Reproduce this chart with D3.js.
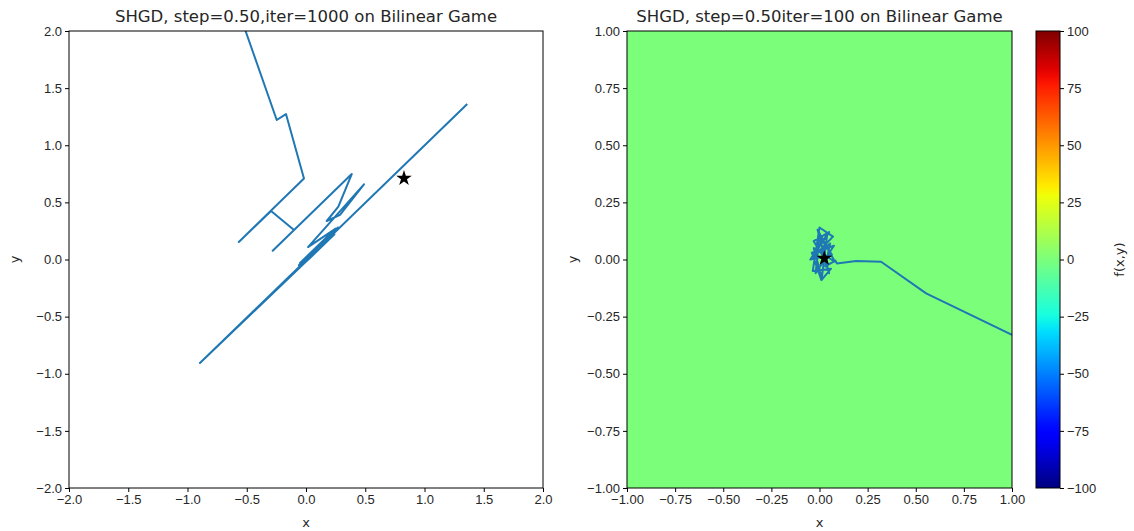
<!DOCTYPE html>
<html>
<head>
<meta charset="utf-8">
<script src="https://cdn.jsdelivr.net/npm/d3@7"></script>
<style>
  html, body { margin: 0; padding: 0; background: #fff; }
  svg { display: block; font-family: "DejaVu Sans", sans-serif; }
  text { fill: #262626; }
</style>
</head>
<body>
<svg id="fig" width="1134" height="531"></svg>
<script>
// Trajectory of SHGD on the bilinear game, step 0.50, 1000 iterations
const leftTitle = "SHGD, step=0.50,iter=1000 on Bilinear Game";
const leftPathX = [-0.51, -0.247, -0.169, -0.017, -0.567, -0.295, -0.101, -0.281, 0.386, 0.273, 0.175, 0.287, 0.489, 0.017, 0.25, -0.05, 0.22, -0.06, 0.27, 0.02, 0.24, -0.895, 1.361];
const leftPathY = [2.0, 1.221, 1.273, 0.709, 0.153, 0.425, 0.258, 0.077, 0.748, 0.462, 0.337, 0.39, 0.658, 0.109, 0.27, -0.03, 0.24, -0.05, 0.28, 0.0, 0.22, -0.906, 1.361];
const leftStar = [0.827, 0.711];
const leftTicks = [-2.0, -1.5, -1.0, -0.5, 0.0, 0.5, 1.0, 1.5, 2.0];

// Trajectory of SHGD, step 0.50, 100 iterations, over the f(x,y) field
const rightTitle = "SHGD, step=0.50iter=100 on Bilinear Game";
const rightPathX = [1.0, 0.554, 0.32, 0.19, 0.09, 0.083, 0.03, 0.055, 0.01, 0.05, -0.01, 0.08, -0.03, 0.012, 0.04, -0.048, 0.065, 0.0, -0.02, 0.075, -0.04, 0.01, 0.06, -0.035, 0.0, 0.07, -0.045, 0.05, -0.03, 0.025];
const rightPathY = [-0.33, -0.148, -0.01, -0.007, -0.017, -0.005, -0.03, 0.07, 0.04, -0.06, 0.13, -0.01, 0.05, -0.08, 0.11, 0.0, 0.02, 0.10, -0.06, 0.06, 0.03, -0.09, -0.04, -0.05, 0.14, 0.1, 0.0, 0.12, 0.08, 0.005];
const rightStar = [0.025, 0.005];
const rightTicks = [-1.0, -0.75, -0.5, -0.25, 0.0, 0.25, 0.5, 0.75, 1.0];
const fieldValue = 0;   // f(x,y) level filling the plotted region

// Colour bar
const cbarDomain = [-100, 100];
const cbarTicks = [-100, -75, -50, -25, 0, 25, 50, 75, 100];
const cbarLabel = "f(x,y)";

// matplotlib "jet" segment data
const jetR = [[0, 0], [0.35, 0], [0.66, 1], [0.89, 1], [1, 0.5]];
const jetG = [[0, 0], [0.125, 0], [0.375, 1], [0.64, 1], [0.91, 0], [1, 0]];
const jetB = [[0, 0.5], [0.11, 1], [0.34, 1], [0.65, 0], [1, 0]];
function seg(points, t) {
  for (let i = 1; i < points.length; i++) {
    if (t <= points[i][0]) {
      const [x0, y0] = points[i - 1], [x1, y1] = points[i];
      return y0 + (y1 - y0) * (t - x0) / (x1 - x0);
    }
  }
  return points[points.length - 1][1];
}
function jet(t) {
  return d3.rgb(255 * seg(jetR, t), 255 * seg(jetG, t), 255 * seg(jetB, t)).formatHex();
}

const svg = d3.select("#fig");
const lineColor = "#1f77b4";
const plotTop = 31, plotBottom = 488;
const tickFont = 13, titleFont = 16.5;

function drawAxes(g, x, y, ticks, fmt, id) {
  const [x0, x1] = x.range();
  g.append("clipPath").attr("id", id).append("rect")
    .attr("x", x0).attr("y", plotTop).attr("width", x1 - x0).attr("height", plotBottom - plotTop);

  const ax = g.append("g").attr("transform", `translate(0,${plotBottom})`)
    .call(d3.axisBottom(x).tickValues(ticks).tickFormat(d3.format(fmt)).tickSize(4).tickPadding(3));
  const ay = g.append("g").attr("transform", `translate(${x0},0)`)
    .call(d3.axisLeft(y).tickValues(ticks).tickFormat(d3.format(fmt)).tickSize(4).tickPadding(3));
  [ax, ay].forEach(a => {
    a.select(".domain").remove();
    a.selectAll("line").attr("stroke", "#000");
    a.selectAll("text").attr("font-size", tickFont).attr("fill", "#262626");
  });
}

function frame(g, x) {
  const [x0, x1] = x.range();
  g.append("rect").attr("x", x0).attr("y", plotTop).attr("width", x1 - x0).attr("height", plotBottom - plotTop)
    .attr("fill", "none").attr("stroke", "#000").attr("stroke-width", 1);
}

function labels(g, x, title) {
  const [x0, x1] = x.range();
  g.append("text").attr("x", (x0 + x1) / 2).attr("y", 22).attr("text-anchor", "middle")
    .attr("font-size", titleFont).text(title);
  g.append("text").attr("x", (x0 + x1) / 2).attr("y", 527).attr("text-anchor", "middle")
    .attr("font-size", tickFont).text("x");
  g.append("text").attr("transform", `translate(${x0 - 50},${(plotTop + plotBottom) / 2}) rotate(-90)`)
    .attr("text-anchor", "middle").attr("font-size", tickFont).text("y");
}

// ---- left panel ----
const xL = d3.scaleLinear([-2, 2], [69, 543]);
const yL = d3.scaleLinear([-2, 2], [plotBottom, plotTop]);
const gL = svg.append("g");
drawAxes(gL, xL, yL, leftTicks, ".1f", "clipL");
const lineL = d3.line().x(i => xL(leftPathX[i])).y(i => yL(leftPathY[i]));
gL.append("path").attr("clip-path", "url(#clipL)")
  .attr("d", lineL(d3.range(leftPathX.length)))
  .attr("fill", "none").attr("stroke", lineColor).attr("stroke-width", 2).attr("stroke-linejoin", "round");
gL.append("path").attr("d", d3.symbol(d3.symbolStar, 75)())
  .attr("transform", `translate(${xL(leftStar[0])},${yL(leftStar[1])})`).attr("fill", "#000");
frame(gL, xL);
labels(gL, xL, leftTitle);

// ---- right panel ----
const xR = d3.scaleLinear([-1, 1], [627, 1012]);
const yR = d3.scaleLinear([-1, 1], [plotBottom, plotTop]);
const cbar = d3.scaleLinear(cbarDomain, [plotBottom, plotTop]);
const gR = svg.append("g");
gR.append("rect").attr("x", 627).attr("y", plotTop).attr("width", 1012 - 627).attr("height", plotBottom - plotTop)
  .attr("fill", jet((fieldValue - cbarDomain[0]) / (cbarDomain[1] - cbarDomain[0])));
drawAxes(gR, xR, yR, rightTicks, ".2f", "clipR");
const lineR = d3.line().x(i => xR(rightPathX[i])).y(i => yR(rightPathY[i]));
gR.append("path").attr("clip-path", "url(#clipR)")
  .attr("d", lineR(d3.range(rightPathX.length)))
  .attr("fill", "none").attr("stroke", lineColor).attr("stroke-width", 2).attr("stroke-linejoin", "round");
gR.append("path").attr("d", d3.symbol(d3.symbolStar, 75)())
  .attr("transform", `translate(${xR(rightStar[0])},${yR(rightStar[1])})`).attr("fill", "#000");
frame(gR, xR);
labels(gR, xR, rightTitle);

// ---- colour bar ----
const cbX = 1036, cbW = 24;
const defs = svg.append("defs");
const grad = defs.append("linearGradient").attr("id", "jetGrad")
  .attr("x1", 0).attr("y1", 1).attr("x2", 0).attr("y2", 0);
d3.range(0, 1.0001, 0.02).forEach(t => grad.append("stop").attr("offset", t).attr("stop-color", jet(t)));
svg.append("rect").attr("x", cbX).attr("y", plotTop).attr("width", cbW).attr("height", plotBottom - plotTop)
  .attr("fill", "url(#jetGrad)").attr("stroke", "#000").attr("stroke-width", 1);
const cbAxis = svg.append("g").attr("transform", `translate(${cbX + cbW},0)`)
  .call(d3.axisRight(cbar).tickValues(cbarTicks).tickFormat(d3.format("d")).tickSize(4).tickPadding(3));
cbAxis.select(".domain").remove();
cbAxis.selectAll("line").attr("stroke", "#000");
cbAxis.selectAll("text").attr("font-size", tickFont).attr("fill", "#262626");
svg.append("text").attr("transform", `translate(1124,${(plotTop + plotBottom) / 2}) rotate(-90)`)
  .attr("text-anchor", "middle").attr("font-size", tickFont).text(cbarLabel);
</script>
</body>
</html>
